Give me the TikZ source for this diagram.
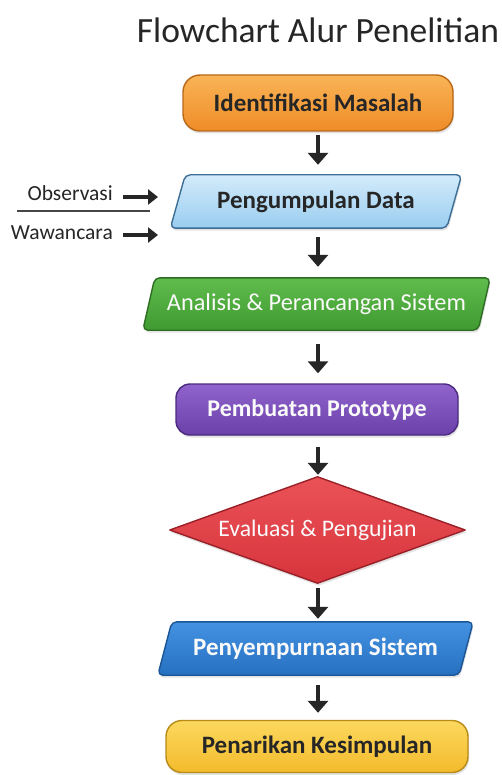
\documentclass[tikz,border=0pt]{standalone}
\usepackage{fontspec}
\setmainfont{Carlito}
\usetikzlibrary{arrows.meta,shadows,calc,backgrounds}

\definecolor{inkdark}{HTML}{262626}
\definecolor{textwhite}{HTML}{FAFAFA}

\tikzset{
  x=1pt, y=-1pt,
  boxtext/.style={inner sep=0pt, font=\fontsize{25}{29}\selectfont\bfseries},
  plaintext/.style={inner sep=0pt, font=\fontsize{24.3}{29}\selectfont},
  shapeshadow/.style={drop shadow={opacity=0.22, shadow xshift=1pt, shadow yshift=-2.5pt}},
  flowarrow/.style={line width=4.5pt, -{Triangle[length=12pt,width=20pt]}, draw=inkdark},
  inarrow/.style={line width=4pt, -{Triangle[length=10pt,width=15pt]}, draw=inkdark},
  orangefill/.style={top color=orange1, bottom color=orange2, draw=orange3, line width=1.4pt},
  lbluefill/.style={top color=lblue1, bottom color=lblue2, draw=lblue3, line width=1.4pt},
  greenfill/.style={top color=green1, bottom color=green2, draw=green3, line width=1.4pt},
  purplefill/.style={top color=purple1, bottom color=purple2, draw=purple3, line width=1.4pt},
  redfill/.style={top color=red1, bottom color=red2, draw=red3, line width=1.4pt},
  bluefill/.style={top color=blue1, bottom color=blue2, draw=blue3, line width=1.4pt},
  yellowfill/.style={top color=yellow1, bottom color=yellow2, draw=yellow3, line width=1.4pt},
}

\definecolor{orange1}{HTML}{FAB456}\definecolor{orange2}{HTML}{EF8C28}\definecolor{orange3}{HTML}{B8691A}
\definecolor{lblue1}{HTML}{D3EBFB}\definecolor{lblue2}{HTML}{99CDEF}\definecolor{lblue3}{HTML}{3D6E96}
\definecolor{green1}{HTML}{60BC4C}\definecolor{green2}{HTML}{3F9B31}\definecolor{green3}{HTML}{2D6E22}
\definecolor{purple1}{HTML}{9064CC}\definecolor{purple2}{HTML}{6B40A9}\definecolor{purple3}{HTML}{4B2A80}
\definecolor{red1}{HTML}{EA5257}\definecolor{red2}{HTML}{D7343C}\definecolor{red3}{HTML}{9A2028}
\definecolor{blue1}{HTML}{4592E2}\definecolor{blue2}{HTML}{2670C0}\definecolor{blue3}{HTML}{1B5595}
\definecolor{yellow1}{HTML}{FCD85E}\definecolor{yellow2}{HTML}{F3BB2C}\definecolor{yellow3}{HTML}{B88A18}

% parallelogram behind a node: name, slant, fill style
\newcommand\slantbox[3]{%
  \begin{pgfonlayer}{background}
    \draw[#3, shapeshadow, rounded corners=5pt]
      (#1.south west) -- ($(#1.north west)+(#2,0)$) -- (#1.north east)
      -- ($(#1.south east)-(#2,0)$) -- cycle;
  \end{pgfonlayer}}

\begin{document}
\begin{tikzpicture}
\useasboundingbox (0,0) rectangle (502,775);
\begin{pgfonlayer}{background}
  \fill[white] (0,0) rectangle (502,775);
\end{pgfonlayer}

% title
\node[inner sep=0pt, text=inkdark, font=\fontsize{35.5}{40}\selectfont] (title) at (318,30) {Flowchart Alur Penelitian};

% process steps
\node[boxtext, text=inkdark, minimum width=270, minimum height=56, rounded corners=17pt,
      orangefill, shapeshadow] (s1) at (318,103) {Identifikasi Masalah};

\node[boxtext, text=inkdark, minimum width=291, minimum height=53] (s2) at (316,201.5) {Pengumpulan Data};
\slantbox{s2}{15}{lbluefill}

\node[plaintext, text=textwhite, minimum width=347, minimum height=52] (s3) at (316.5,304) {Analisis \& Perancangan Sistem};
\slantbox{s3}{12}{greenfill}

\node[boxtext, font=\fontsize{24}{28}\selectfont\bfseries, text=textwhite, minimum width=282, minimum height=51, rounded corners=14pt,
      purplefill, shapeshadow] (s4) at (317,409.5) {Pembuatan Prototype};

\node[plaintext, font=\fontsize{23.7}{28}\selectfont, text=textwhite, minimum width=295, minimum height=106] (s5) at (317.5,530) {Evaluasi \& Pengujian};
\begin{pgfonlayer}{background}
  \draw[redfill, shapeshadow, line join=round] (s5.north) -- (s5.east) -- (s5.south) -- (s5.west) -- cycle;
\end{pgfonlayer}

\node[boxtext, text=textwhite, minimum width=315, minimum height=53] (s6) at (315.5,648.5) {Penyempurnaan Sistem};
\slantbox{s6}{14}{bluefill}

\node[boxtext, text=inkdark, minimum width=302, minimum height=52, rounded corners=16pt,
      yellowfill, shapeshadow] (s7) at (317,746.5) {Penarikan Kesimpulan};

% connectors
\draw[flowarrow, shorten <=3pt, shorten >=10pt] (s1.south) -- (s1.south |- s2.north);
\draw[flowarrow, shorten <=9pt, shorten >=11pt] (s1.south |- s2.south) -- (s1.south |- s3.north);
\draw[flowarrow, shorten <=14pt, shorten >=10pt] (s1.south |- s3.south) -- (s1.south |- s4.north);
\draw[flowarrow, shorten <=11pt, shorten >=2pt] (s1.south |- s4.south) -- (s1.south |- s5.north);
\draw[flowarrow, shorten <=5pt, shorten >=3pt] (s1.south |- s5.south) -- (s1.south |- s6.north);
\draw[flowarrow, shorten <=10pt, shorten >=7pt] (s1.south |- s6.south) -- (s1.south |- s7.north);

% data sources feeding the collection step
\node[inner sep=0pt, anchor=east, text=inkdark, font=\fontsize{21.5}{25}\selectfont] (obs) at (113,193) {Observasi};
\node[inner sep=0pt, anchor=east, text=inkdark, font=\fontsize{21.5}{25}\selectfont] (waw) at (113,233) {Wawancara};
\coordinate (obsend) at (158,197);
\coordinate (wawend) at (158,235);
\draw[inarrow] ($(obs.east)+(10,4)$) -- (obsend);
\draw[inarrow] ($(waw.east)+(10,2)$) -- (wawend);
\coordinate (rulea) at (17,211);
\coordinate (ruleb) at (150,211);
\draw[line width=1.8pt, draw=inkdark!85] (rulea) -- (ruleb);
\end{tikzpicture}
\end{document}
